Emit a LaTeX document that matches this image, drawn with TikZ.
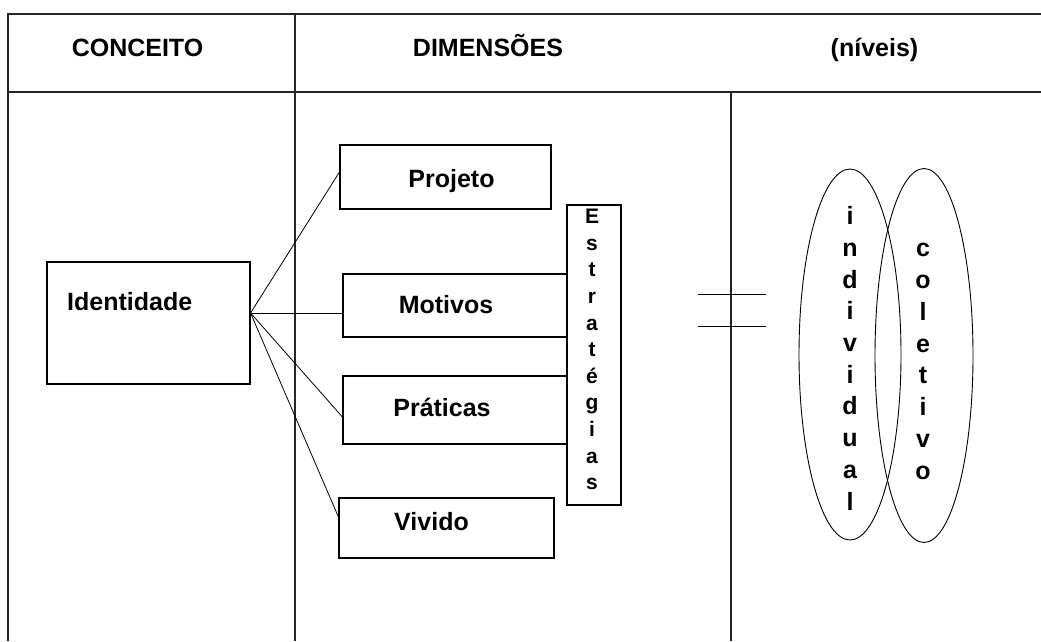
\documentclass[tikz,border=0pt]{standalone}
\usepackage{fontspec}
\setmainfont{Liberation Sans}
\usetikzlibrary{shapes.geometric}
\begin{document}
\begin{tikzpicture}[x=1pt,y=-1pt,
  rule/.style={line width=1.4pt, draw=black!85},
  box/.style={draw, line width=1.1pt, rectangle, inner sep=0pt},
  lbl/.style={font=\fontsize{25}{28}\selectfont\bfseries, inner sep=0pt, anchor=base},
  conn/.style={line width=0.8pt},
  oval/.style={draw, ellipse, line width=0.9pt, inner sep=0pt},
  stk/.style={inner sep=0pt, text height=0.6em, text depth=0pt, anchor=center},
]
\useasboundingbox (0,0) rectangle (1041,641);
\fill[white] (0,0) rectangle (1041,641);
% table frame
\draw[rule] (8,641) -- (8,14) -- (1041,14);
\draw[rule] (8,92) -- (1041,92);
\draw[rule] (295,14) -- (295,641);
\draw[rule] (731,92) -- (731,641);
% headers
\node[lbl] (hconc) at (137.5,56) {CONCEITO};
\node[lbl] (hdim) at (488,56) {DIMENSÕES};
\node[lbl] (hniv) at (874.5,56) {(níveis)};
% boxes
\node[box, minimum width=203pt, minimum height=122pt] (idbox) at (148.5,323) {};
\node[box, minimum width=211pt, minimum height=64pt] (proj) at (445.5,177) {};
\node[box, minimum width=224pt, minimum height=63pt] (mot) at (455,305.5) {};
\node[box, minimum width=224pt, minimum height=68pt] (prat) at (455,410) {};
\node[box, minimum width=215pt, minimum height=60pt] (viv) at (446.5,528) {};
\node[box, minimum width=54pt, minimum height=300pt] (estr) at (594,355) {};
% box texts
\node[lbl, anchor=base west] (tid) at (67,310) {Identidade};
\node[lbl] (tproj) at (451.5,187) {Projeto};
\node[lbl] (tmot) at (446,313) {Motivos};
\node[lbl] (tprat) at (442,416) {Práticas};
\node[lbl] (tviv) at (431.5,530) {Vivido};
% connectors
\coordinate (hub) at ([yshift=10pt]idbox.east);
\draw[conn] (hub) -- ([yshift=5pt]proj.west);
\draw[conn] (hub) -- (hub -| mot.west);
\draw[conn] (hub) -- ([yshift=-7pt]prat.west);
\draw[conn] (hub) -- ([yshift=11pt]viv.west);
% Estrategias stacked
\foreach \ch [count=\i] in {E,s,t,r,a,t,é,g,i,a,s}
  \node[stk, font=\fontsize{21}{24}\selectfont\bfseries] (es\i) at (592, {220.7+26.6*(\i-1)}) {\ch};
% equals sign
\draw[conn, line width=1pt] (698,294) -- (766,294);
\draw[conn, line width=1pt] (698,326) -- (766,326);
% ellipses
\node[oval, minimum width=102pt, minimum height=371pt] (ind) at (850,354.5) {};
\node[oval, minimum width=98pt, minimum height=374pt] (col) at (924,355.5) {};
\foreach \ch [count=\i] in {i,n,d,i,v,i,d,u,a,l}
  \node[stk, font=\fontsize{25}{28}\selectfont\bfseries] (in\i) at (850, {221.7+31.7*(\i-1)}) {\ch};
\foreach \ch [count=\i] in {c,o,l,e,t,i,v,o}
  \node[stk, font=\fontsize{25}{28}\selectfont\bfseries] (co\i) at (923, {253.3+31.9*(\i-1)}) {\ch};
\end{tikzpicture}
\end{document}
